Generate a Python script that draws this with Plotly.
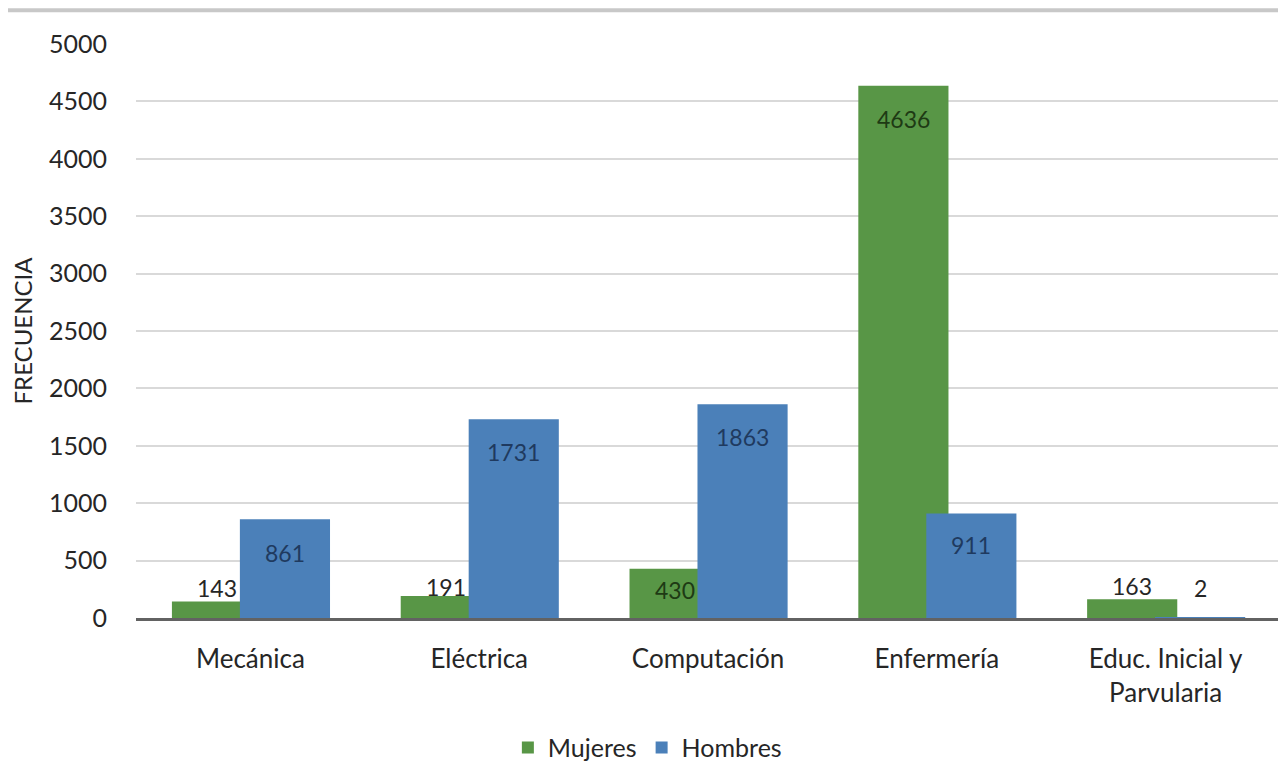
import plotly.graph_objects as go

categorias = ["Mecánica", "Eléctrica", "Computación", "Enfermería", "Educ. Inicial y<br>Parvularia"]
mujeres = [143, 191, 430, 4636, 163]
hombres = [861, 1731, 1863, 911, 2]
y_ticks = [0, 500, 1000, 1500, 2000, 2500, 3000, 3500, 4000, 4500, 5000]

# label styling (vertical pixel shift from the bar end, colour)
shift_m = [14, 9, -21, -33, 13]
shift_h = [-34, -33, -33, -32, 30]
col_m = ["#262626", "#262626", "#1E3A14", "#1E3A14", "#262626"]
col_h = ["#1F3A5F", "#1F3A5F", "#1F3A5F", "#1F3A5F", "#262626"]

FONT = "Lato"
GREEN = "#589646"
BLUE = "#4B80B9"
BAR_W = 0.394
OFF_M = -0.343
OFF_H = -0.046

fig = go.Figure()
fig.add_trace(go.Bar(
    name="Mujeres", x=categorias, y=mujeres,
    marker=dict(color=GREEN, line=dict(width=0)),
    width=BAR_W, offset=OFF_M, hoverinfo="skip",
))
fig.add_trace(go.Bar(
    name="Hombres", x=categorias, y=hombres,
    marker=dict(color=BLUE, line=dict(width=0)),
    width=BAR_W, offset=OFF_H, hoverinfo="skip",
))

annotations = []
for i, (v, s, c) in enumerate(zip(mujeres, shift_m, col_m)):
    annotations.append(dict(x=i + OFF_M + BAR_W / 2, y=v, xref="x", yref="y", text=str(v),
                            showarrow=False, yshift=s, yanchor="middle", xanchor="center",
                            font=dict(family=FONT, size=23, color=c)))
for i, (v, s, c) in enumerate(zip(hombres, shift_h, col_h)):
    annotations.append(dict(x=i + OFF_H + BAR_W / 2, y=v, xref="x", yref="y", text=str(v),
                            showarrow=False, yshift=s, yanchor="middle", xanchor="center",
                            font=dict(family=FONT, size=23, color=c)))

fig.update_layout(
    width=1286, height=800,
    barmode="overlay",
    paper_bgcolor="white", plot_bgcolor="white",
    margin=dict(l=128, r=14, t=36, b=190),
    font=dict(family=FONT, size=25, color="#262626"),
    showlegend=True,
    legend=dict(orientation="h", x=0.447, xanchor="center", y=-0.226, yanchor="middle",
                font=dict(family=FONT, size=25, color="#262626"),
                traceorder="normal"),
    xaxis=dict(
        type="category", showgrid=False, ticks="", showline=True,
        linecolor="#626262", linewidth=3, ticklabelstandoff=16,
        tickfont=dict(family=FONT, size=26, color="#262626"),
        range=[-0.5, 4.5], fixedrange=True, automargin=False,
    ),
    yaxis=dict(
        range=[0, 5000], tickvals=y_ticks, ticktext=[str(t) for t in y_ticks],
        showgrid=True, gridcolor="#D9D9D9", gridwidth=2, zeroline=False,
        showline=False, ticks="", ticklabelstandoff=28, automargin=False,
        tickfont=dict(family=FONT, size=25, color="#262626"),
        title=dict(text="FRECUENCIA", font=dict(family=FONT, size=24, color="#262626"), standoff=10),
    ),
    annotations=annotations,
    shapes=[dict(type="line", xref="paper", yref="paper",
                 x0=-0.2, x1=1.1, y0=1.059, y1=1.059,
                 line=dict(color="#C8C8C8", width=4), layer="above")],
)

fig.write_html("out.html")
